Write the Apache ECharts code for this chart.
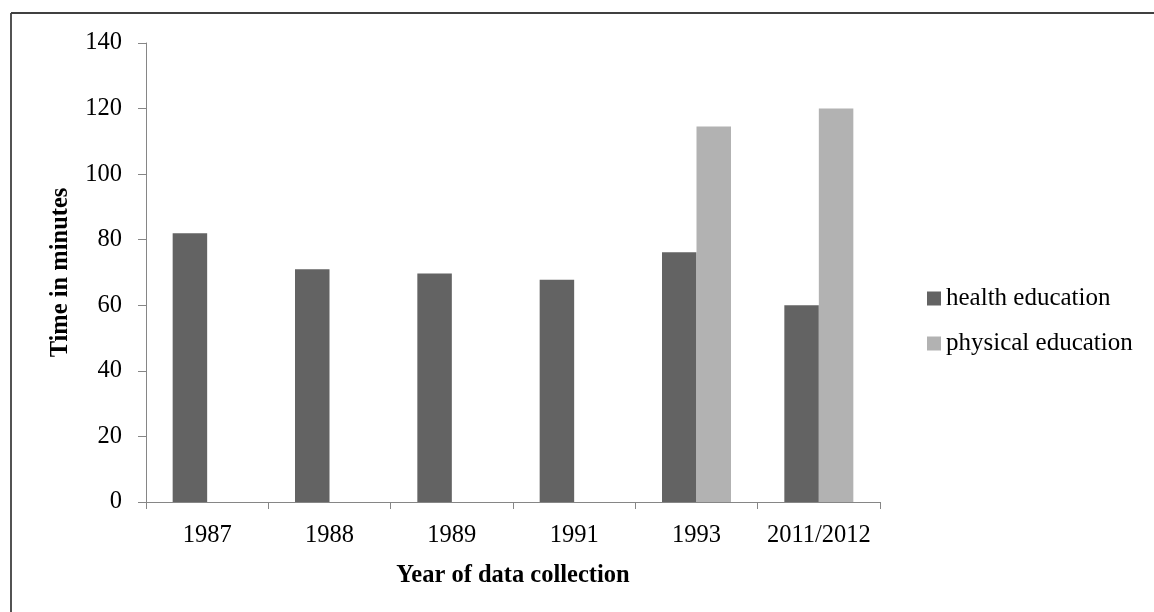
<!DOCTYPE html>
<html>
<head>
<meta charset="utf-8">
<script src="https://cdn.jsdelivr.net/npm/echarts@6/dist/echarts.min.js"></script>
<style>
html,body{margin:0;padding:0;background:#fff;}
#chart{width:1154px;height:612px;}
</style>
</head>
<body>
<div id="chart"></div>
<script>
const categories = ['1987', '1988', '1989', '1991', '1993', '2011/2012'];
const healthEducation = [82, 71, 69.7, 67.8, 76.2, 60];
const physicalEducation = [null, null, null, null, 114.5, 120];
const yTicks = { min: 0, max: 140, interval: 20 };

const FONT = '"Liberation Serif", "Times New Roman", serif';
const chart = echarts.init(document.getElementById('chart'));
chart.setOption({
  animation: false,
  backgroundColor: '#ffffff',
  grid: { left: 146, right: 274, top: 43, bottom: 110, containLabel: false },
  legend: {
    orient: 'vertical',
    left: 922,
    top: 281,
    icon: 'rect',
    itemWidth: 14,
    itemHeight: 14,
    itemGap: 20,
    textStyle: { fontFamily: FONT, fontSize: 25, color: '#000', lineHeight: 25 },
    data: ['health education', 'physical education']
  },
  xAxis: {
    type: 'category',
    data: categories,
    name: 'Year of data collection',
    nameLocation: 'middle',
    nameGap: 61,
    nameTextStyle: { fontFamily: FONT, fontSize: 24.5, fontWeight: 'bold', color: '#000' },
    axisLine: { lineStyle: { color: '#868686', width: 1 } },
    axisTick: { show: true, interval: 0, length: 7, lineStyle: { color: '#868686' } },
    axisLabel: { interval: 0, fontFamily: FONT, fontSize: 24.5, color: '#000', margin: 21 },
    splitLine: { show: false }
  },
  yAxis: {
    type: 'value',
    min: yTicks.min,
    max: yTicks.max,
    interval: yTicks.interval,
    name: 'Time in minutes',
    nameLocation: 'middle',
    nameGap: 73,
    nameTextStyle: { fontFamily: FONT, fontSize: 24.5, fontWeight: 'bold', color: '#000' },
    axisLine: { show: true, lineStyle: { color: '#868686', width: 1 } },
    axisTick: { show: true, length: 8, lineStyle: { color: '#868686' } },
    axisLabel: { fontFamily: FONT, fontSize: 24.5, color: '#000', margin: 24 },
    splitLine: { show: false }
  },
  series: [
    {
      name: 'health education',
      type: 'bar',
      data: healthEducation,
      barWidth: 34.5,
      barGap: '0%',
      itemStyle: { color: '#636363' }
    },
    {
      name: 'physical education',
      type: 'bar',
      data: physicalEducation,
      barWidth: 34.5,
      barGap: '0%',
      itemStyle: { color: '#b2b2b2' }
    }
  ],
  graphic: [
    { type: 'line', shape: { x1: 11, y1: 13, x2: 11, y2: 612 }, style: { stroke: '#404040', lineWidth: 1.8 } },
    { type: 'line', shape: { x1: 11, y1: 13, x2: 1154, y2: 13 }, style: { stroke: '#404040', lineWidth: 1.8 } }
  ]
});
</script>
</body>
</html>
